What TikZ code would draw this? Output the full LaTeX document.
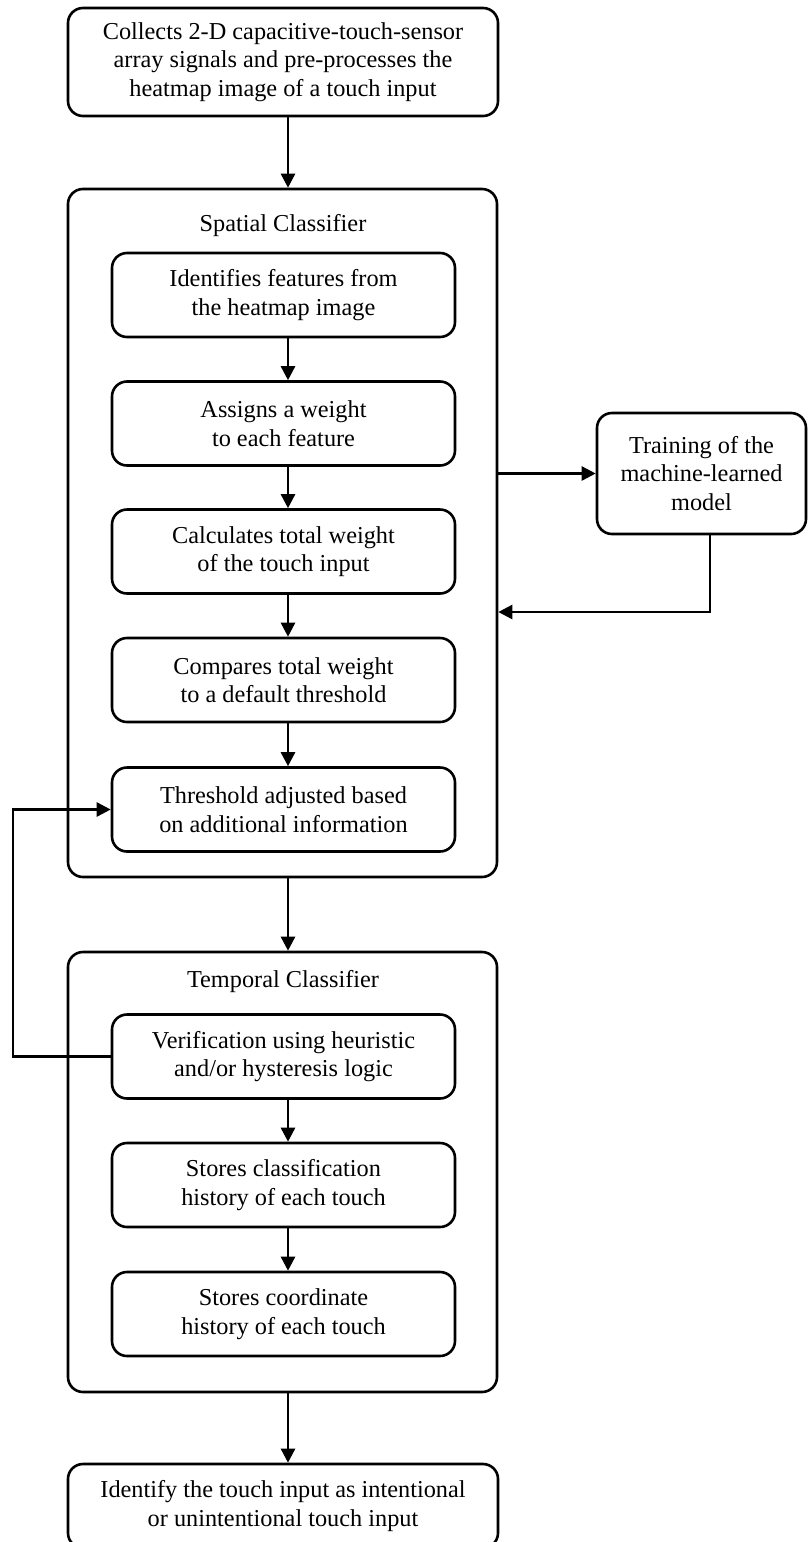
\documentclass[tikz,border=0pt]{standalone}
\usepackage{fontspec}
\setmainfont{Liberation Serif}
\usetikzlibrary{arrows.meta}
\begin{document}
\begin{tikzpicture}[x=1pt,y=-1pt,
  box/.style={draw, line width=2.6pt, rounded corners=15pt, align=center, inner sep=0pt,
    font=\fontsize{24.3}{28.5}\selectfont},
  inbox/.style={box, minimum width=343pt, minimum height=84pt},
  outbox/.style={box, minimum width=430pt},
  arr/.style={line width=2.6pt, -{Triangle[length=14pt,width=14pt]}},
  ttl/.style={font=\fontsize{24.3}{28.5}\selectfont, inner sep=0pt}]
\useasboundingbox (0,0) rectangle (808,1542);
\clip (0,0) rectangle (808,1542);
\coordinate (ax) at (288,0);
\coordinate (rx) at (710,0);
\coordinate (ry) at (0,612);
\coordinate (fx) at (13,0);

\node[outbox, minimum height=108pt] (top) at (283,62)
  {Collects 2-D capacitive-touch-sensor\\array signals and pre-processes the\\heatmap image of a touch input};

\node[box, minimum width=429pt, minimum height=688pt] (sp) at (282.5,533) {};
\node[ttl] (spt) at (283,226) {Spatial Classifier};
\node[inbox] (b1) at (283.5,295) {Identifies features from\\the heatmap image};
\node[inbox] (b2) at (283.5,423.5) {Assigns a weight\\to each feature};
\node[inbox] (b3) at (283.5,551.5) {Calculates total weight\\of the touch input};
\node[inbox] (b4) at (283.5,680) {Compares total weight\\to a default threshold};
\node[inbox] (b5) at (283.5,809.5) {Threshold adjusted based\\on additional information};

\node[box, minimum width=209pt, minimum height=121pt] (tr) at (701.5,473.5)
  {Training of the\\machine-learned\\model};

\node[box, minimum width=429pt, minimum height=440pt] (tp) at (282.5,1172) {};
\node[ttl] (tpt) at (283,982) {Temporal Classifier};
\node[inbox] (b6) at (283.5,1056.5) {Verification using heuristic\\and/or hysteresis logic};
\node[inbox] (b7) at (283.5,1185) {Stores classification\\history of each touch};
\node[inbox] (b8) at (283.5,1314) {Stores coordinate\\history of each touch};

\node[outbox, minimum height=84pt] (bot) at (283,1506)
  {Identify the touch input as intentional\\or unintentional touch input};

\draw[arr] (top.south -| ax) -- (sp.north -| ax);
\draw[arr] (b1.south -| ax) -- (b2.north -| ax);
\draw[arr] (b2.south -| ax) -- (b3.north -| ax);
\draw[arr] (b3.south -| ax) -- (b4.north -| ax);
\draw[arr] (b4.south -| ax) -- (b5.north -| ax);
\draw[arr] (sp.south -| ax) -- (tp.north -| ax);
\draw[arr] (b6.south -| ax) -- (b7.north -| ax);
\draw[arr] (b7.south -| ax) -- (b8.north -| ax);
\draw[arr] (tp.south -| ax) -- (bot.north -| ax);

\draw[arr] (tr.west -| sp.east) -- (tr.west);
\draw[arr] (tr.south -| rx) -- (ry -| rx) -- (ry -| sp.east);
\draw[arr] (b6.west) -- (b6.west -| fx) -- (b5.west -| fx) -- (b5.west);
\end{tikzpicture}
\end{document}
